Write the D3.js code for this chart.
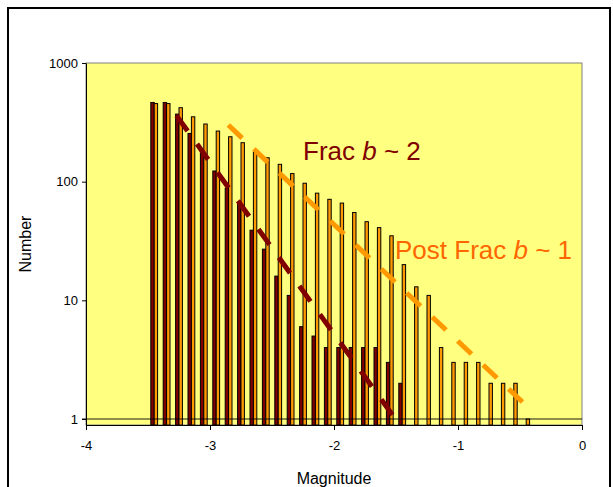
<!DOCTYPE html>
<html>
<head>
<meta charset="utf-8">
<script src="https://cdn.jsdelivr.net/npm/d3@7"></script>
<style>
  html, body { margin: 0; padding: 0; background: #fff; }
  svg { display: block; font-family: "Liberation Sans", Arial, sans-serif; }
</style>
</head>
<body>
<svg id="chart" width="613" height="487"></svg>
<script>
// ---- data ----
const binCenters = [-3.45, -3.35, -3.25, -3.15, -3.05, -2.95, -2.85, -2.75, -2.65, -2.55,
                    -2.45, -2.35, -2.25, -2.15, -2.05, -1.95, -1.85, -1.75, -1.65, -1.55,
                    -1.45, -1.35, -1.25, -1.15, -1.05, -0.95, -0.85, -0.75, -0.65, -0.55, -0.45];
const fracCounts = [465, 465, 371, 255, 180, 123, 88, 66, 39, 27,
                    16, 11, 6, 5, 4, 4, 4, 4, 4, 3,
                    2, null, null, null, null, null, null, null, null, null, null];
const postFracCounts = [455, 455, 420, 352, 306, 267, 239, 213, 177, 159,
                        140, 117, 97, 80, 71, 66, 55, 46, 41, 35,
                        20, 13, 11, 4, 3, 3, 3, 2, 2, 2, 1];
const fracFitM = [-3.27, -1.514];
const fracFitN = [360, 1.03];
const postFitM = [-2.852, -0.46];
const postFitN = [300, 1.33];
const xTicks = [-4, -3, -2, -1, 0];
const yTicks = [1, 10, 100, 1000];
const xTitle = "Magnitude";
const yTitle = "Number";
const fracLabel = ["Frac ", "b", " ~ 2"];
const postLabel = ["Post Frac ", "b", " ~ 1"];

// ---- layout ----
const svg = d3.select("#chart");
const L = 86, R = 582, T = 63, B = 425;
const x = d3.scaleLinear().domain([-4, 0]).range([L, R]);
const y = d3.scaleLog().domain([0.89, 1000]).range([B, T]);
const barW = 3.4;

// outer chart border
svg.append("rect").attr("x", 8).attr("y", 8).attr("width", 602).attr("height", 500)
  .attr("fill", "#fff").attr("stroke", "#000").attr("stroke-width", 2);

// plot area
svg.append("rect").attr("x", L).attr("y", T).attr("width", R - L).attr("height", B - T)
  .attr("fill", "#FFFF80").attr("stroke", "#808080").attr("stroke-width", 1);

// bars
const bars = svg.append("g");
binCenters.forEach((m, i) => {
  const f = fracCounts[i];
  if (f != null) {
    bars.append("rect")
      .attr("x", x(m) - barW).attr("y", y(f))
      .attr("width", barW).attr("height", y(0.89) - y(f))
      .attr("fill", "#800000").attr("stroke", "#000").attr("stroke-width", 1);
  }
  const p = postFracCounts[i];
  if (p != null) {
    bars.append("rect")
      .attr("x", x(m)).attr("y", y(p))
      .attr("width", barW).attr("height", y(0.89) - y(p))
      .attr("fill", "#FF9900").attr("stroke", "#000").attr("stroke-width", 1);
  }
});

// horizontal line at N = 1
svg.append("line").attr("x1", L - 4).attr("x2", R).attr("y1", y(1)).attr("y2", y(1))
  .attr("stroke", "#000").attr("stroke-opacity", 0.6).attr("stroke-width", 1.5);

// fit lines
const line = d3.line().x(d => x(d[0])).y(d => y(d[1]));
svg.append("path").datum(fracFitM.map((m, i) => [m, fracFitN[i]]))
  .attr("d", line).attr("fill", "none").attr("stroke", "#800000")
  .attr("stroke-width", 5).attr("stroke-dasharray", "19,16");
svg.append("path").datum(postFitM.map((m, i) => [m, postFitN[i]]))
  .attr("d", line).attr("fill", "none").attr("stroke", "#FF9900")
  .attr("stroke-width", 5).attr("stroke-dasharray", "19,16");

// axes
const xAxis = svg.append("g").attr("transform", `translate(0,${B})`)
  .call(d3.axisBottom(x).tickValues(xTicks).tickSize(5).tickSizeOuter(0).tickPadding(11)
    .tickFormat(d => String(d)));
const yAxis = svg.append("g").attr("transform", `translate(${L},0)`)
  .call(d3.axisLeft(y).tickValues(yTicks).tickSize(4).tickSizeOuter(0).tickPadding(4)
    .tickFormat(d3.format("d")));
[xAxis, yAxis].forEach(g => {
  g.selectAll("text").attr("font-size", 13).attr("fill", "#000")
    .attr("font-family", "Liberation Sans, Arial, sans-serif");
  g.selectAll("line").attr("stroke", "#000");
  g.select(".domain").attr("stroke", "#000");
});

// axis titles
svg.append("text").attr("x", (L + R) / 2).attr("y", 484).attr("text-anchor", "middle")
  .attr("font-size", 16).text(xTitle);
svg.append("text").attr("transform", `translate(31,${(T + B) / 2}) rotate(-90)`)
  .attr("text-anchor", "middle").attr("font-size", 16).text(yTitle);

// annotations
function label(parts, xx, yy, color) {
  const t = svg.append("text").attr("x", xx).attr("y", yy).attr("font-size", 26)
    .attr("fill", color);
  t.append("tspan").text(parts[0]);
  t.append("tspan").attr("font-style", "italic").text(parts[1]);
  t.append("tspan").text(parts[2]);
}
label(fracLabel, 303, 160, "#800000");
label(postLabel, 395, 259, "#FF6600");
</script>
</body>
</html>
